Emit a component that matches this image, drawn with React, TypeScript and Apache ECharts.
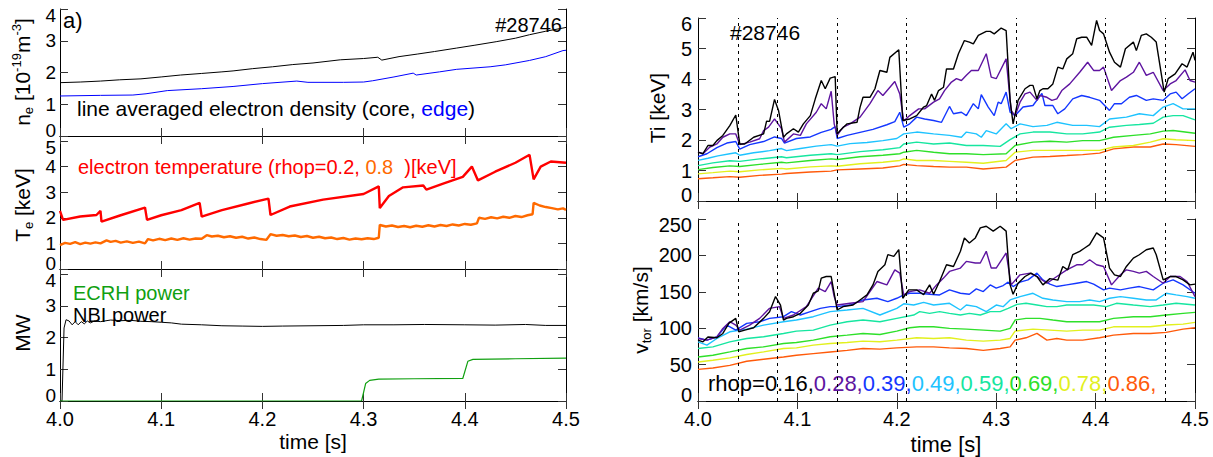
import React, { useEffect, useRef } from "react";
import * as echarts from "echarts";

const FONT = "'Liberation Sans', Arial, Helvetica, sans-serif";

// ---------- data ----------
const crashTimes = [4.039, 4.085, 4.141, 4.207, 4.316, 4.414, 4.468];
const rhopLabels = ["0.16", "0.28", "0.39", "0.49", "0.59", "0.69", "0.78", "0.86"];
const rhopColors = ["#000000", "#5e14a0", "#1437ff", "#1ec3ff", "#16e6a0", "#2ee02a", "#e2f01e", "#ff5a0a"];

const neCore = [[4.000,1.68],[4.020,1.70],[4.040,1.73],[4.059,1.77],[4.080,1.80],[4.100,1.86],[4.119,1.92],[4.140,1.97],[4.160,2.02],[4.171,2.05],[4.190,2.12],[4.210,2.18],[4.230,2.25],[4.250,2.30],[4.277,2.40],[4.300,2.44],[4.314,2.48],[4.318,2.39],[4.335,2.50],[4.353,2.58],[4.370,2.66],[4.392,2.77],[4.410,2.86],[4.431,2.97],[4.450,3.08],[4.464,3.19],[4.480,3.30],[4.497,3.40],[4.500,3.42]];
const neEdge = [[4.000,1.26],[4.040,1.28],[4.072,1.29],[4.085,1.33],[4.106,1.43],[4.140,1.49],[4.171,1.56],[4.200,1.65],[4.234,1.73],[4.245,1.69],[4.280,1.69],[4.300,1.70],[4.309,1.74],[4.330,1.86],[4.349,1.98],[4.352,1.92],[4.375,2.02],[4.392,2.10],[4.425,2.18],[4.440,2.24],[4.464,2.38],[4.480,2.50],[4.497,2.69],[4.500,2.70]];

const te02 = [[4.000,2.27],[4.003,1.92],[4.020,2.05],[4.036,2.11],[4.040,2.27],[4.041,1.85],[4.060,2.10],[4.084,2.40],[4.086,1.92],[4.100,2.10],[4.120,2.30],[4.138,2.58],[4.140,2.05],[4.160,2.30],[4.185,2.55],[4.206,2.75],[4.208,2.11],[4.227,2.44],[4.260,2.71],[4.300,2.93],[4.315,3.23],[4.316,2.38],[4.325,2.85],[4.339,3.19],[4.359,3.26],[4.362,3.10],[4.380,3.35],[4.398,3.60],[4.407,4.00],[4.413,3.46],[4.430,3.80],[4.450,4.15],[4.464,4.46],[4.468,3.50],[4.475,4.00],[4.485,4.20],[4.497,4.16],[4.500,4.15]];
const te08 = [[4.000,0.93],[4.005,1.02],[4.010,0.98],[4.015,1.05],[4.020,0.97],[4.025,1.03],[4.030,0.99],[4.035,1.04],[4.040,1.00],[4.046,1.12],[4.050,1.06],[4.055,1.10],[4.060,1.03],[4.066,1.08],[4.072,1.02],[4.078,1.07],[4.084,1.00],[4.087,1.17],[4.092,1.12],[4.098,1.18],[4.104,1.13],[4.110,1.19],[4.116,1.14],[4.122,1.20],[4.128,1.15],[4.134,1.19],[4.140,1.18],[4.145,1.32],[4.150,1.27],[4.156,1.30],[4.162,1.24],[4.168,1.28],[4.174,1.22],[4.180,1.26],[4.186,1.19],[4.192,1.23],[4.198,1.17],[4.204,1.14],[4.208,1.36],[4.214,1.30],[4.220,1.33],[4.226,1.28],[4.232,1.31],[4.238,1.25],[4.244,1.29],[4.250,1.22],[4.256,1.26],[4.262,1.20],[4.268,1.23],[4.274,1.17],[4.280,1.21],[4.286,1.15],[4.292,1.19],[4.298,1.16],[4.304,1.20],[4.310,1.17],[4.315,1.22],[4.316,1.72],[4.322,1.66],[4.328,1.70],[4.334,1.64],[4.340,1.68],[4.346,1.63],[4.352,1.69],[4.358,1.65],[4.364,1.71],[4.370,1.66],[4.376,1.72],[4.382,1.68],[4.388,1.74],[4.394,1.70],[4.400,1.76],[4.406,1.73],[4.412,1.78],[4.414,2.00],[4.420,1.96],[4.426,2.02],[4.432,1.98],[4.438,2.04],[4.444,2.00],[4.450,2.07],[4.456,2.03],[4.462,2.10],[4.467,2.14],[4.468,2.58],[4.474,2.48],[4.480,2.42],[4.486,2.38],[4.492,2.33],[4.497,2.37],[4.500,2.31]];

const nbiPower = [[4.000,0],[4.002,0],[4.004,2.30],[4.006,2.56],[4.009,2.52],[4.012,2.40],[4.015,2.50],[4.018,2.40],[4.021,2.50],[4.024,2.43],[4.027,2.52],[4.030,2.46],[4.034,2.52],[4.040,2.50],[4.050,2.55],[4.060,2.53],[4.070,2.54],[4.080,2.51],[4.090,2.50],[4.100,2.48],[4.110,2.46],[4.120,2.42],[4.140,2.40],[4.160,2.37],[4.180,2.36],[4.200,2.35],[4.220,2.36],[4.250,2.37],[4.280,2.38],[4.300,2.40],[4.330,2.40],[4.360,2.41],[4.400,2.40],[4.430,2.39],[4.460,2.41],[4.480,2.38],[4.500,2.38]];
const ecrhPower = [[4.000,0],[4.298,0],[4.302,0.55],[4.306,0.65],[4.315,0.69],[4.350,0.70],[4.398,0.71],[4.403,1.25],[4.408,1.31],[4.450,1.33],[4.500,1.35]];

const ti016 = [[4.000,1.60],[4.005,1.55],[4.010,1.82],[4.015,1.82],[4.019,1.98],[4.025,2.15],[4.032,2.47],[4.038,2.82],[4.042,1.87],[4.047,1.87],[4.056,2.09],[4.066,2.20],[4.069,2.62],[4.072,2.61],[4.077,3.33],[4.081,2.97],[4.086,2.09],[4.089,2.20],[4.096,2.37],[4.101,2.26],[4.106,2.53],[4.113,2.80],[4.118,3.35],[4.124,3.95],[4.128,3.68],[4.133,4.03],[4.138,4.08],[4.140,2.20],[4.143,2.31],[4.150,2.53],[4.160,2.58],[4.163,3.07],[4.166,3.40],[4.173,3.40],[4.178,3.68],[4.183,4.28],[4.190,4.22],[4.193,4.71],[4.202,4.96],[4.206,2.64],[4.213,2.69],[4.220,2.80],[4.227,3.08],[4.230,3.13],[4.235,3.51],[4.238,3.30],[4.242,3.62],[4.247,3.73],[4.250,4.33],[4.257,4.33],[4.262,4.83],[4.268,5.26],[4.273,5.21],[4.277,5.15],[4.282,5.43],[4.290,5.56],[4.294,5.56],[4.298,5.48],[4.305,5.67],[4.310,5.59],[4.314,3.30],[4.317,2.53],[4.322,3.30],[4.329,3.68],[4.334,3.79],[4.337,3.79],[4.341,3.35],[4.344,3.62],[4.347,3.68],[4.352,3.68],[4.357,3.84],[4.362,4.39],[4.367,4.33],[4.371,4.66],[4.377,4.83],[4.381,5.32],[4.386,5.37],[4.391,5.37],[4.396,5.10],[4.401,5.92],[4.404,5.59],[4.408,5.48],[4.414,4.88],[4.419,4.55],[4.425,4.39],[4.430,4.99],[4.438,5.21],[4.441,4.93],[4.446,5.43],[4.451,5.48],[4.456,5.37],[4.461,5.21],[4.469,3.57],[4.473,4.01],[4.480,4.17],[4.487,4.50],[4.492,4.39],[4.498,4.88],[4.500,4.61]];
const ti028 = [[4.000,1.60],[4.005,1.55],[4.012,1.77],[4.019,1.87],[4.025,2.09],[4.032,2.20],[4.038,2.20],[4.042,1.85],[4.052,1.93],[4.062,2.04],[4.066,2.31],[4.071,2.42],[4.077,2.69],[4.084,2.37],[4.087,1.93],[4.096,2.20],[4.103,2.15],[4.109,2.53],[4.119,2.91],[4.124,3.19],[4.129,3.02],[4.134,3.60],[4.137,2.53],[4.140,2.15],[4.146,2.42],[4.153,2.53],[4.163,2.75],[4.168,2.97],[4.173,3.19],[4.181,3.62],[4.186,3.46],[4.198,3.92],[4.203,3.51],[4.207,2.62],[4.213,2.80],[4.222,3.02],[4.228,3.02],[4.237,3.24],[4.243,3.35],[4.248,3.62],[4.255,3.90],[4.260,4.01],[4.265,3.95],[4.270,4.12],[4.275,4.28],[4.282,4.28],[4.290,4.83],[4.295,4.06],[4.300,4.01],[4.310,4.66],[4.315,2.97],[4.319,2.80],[4.324,3.24],[4.329,3.51],[4.334,3.57],[4.341,3.30],[4.344,3.46],[4.351,3.40],[4.356,3.30],[4.361,3.35],[4.366,3.62],[4.374,3.84],[4.384,4.22],[4.392,4.55],[4.398,4.28],[4.404,4.28],[4.408,4.39],[4.416,3.62],[4.425,3.95],[4.431,4.06],[4.438,4.22],[4.444,4.55],[4.451,4.12],[4.458,4.22],[4.468,3.62],[4.475,3.84],[4.481,3.95],[4.490,4.30],[4.495,3.95],[4.500,3.90]];
const ti039 = [[4.000,1.45],[4.009,1.55],[4.019,1.75],[4.029,1.90],[4.038,1.95],[4.042,1.70],[4.052,1.85],[4.066,1.95],[4.077,2.10],[4.084,2.05],[4.087,1.90],[4.099,2.05],[4.113,2.10],[4.124,2.25],[4.134,2.35],[4.138,2.44],[4.140,2.05],[4.150,2.15],[4.163,2.25],[4.176,2.35],[4.190,2.50],[4.198,2.60],[4.203,2.91],[4.207,2.42],[4.213,2.53],[4.220,2.75],[4.228,2.69],[4.237,2.64],[4.245,2.58],[4.253,3.10],[4.257,2.86],[4.265,2.91],[4.270,2.80],[4.277,3.19],[4.282,3.02],[4.285,3.49],[4.292,3.08],[4.298,2.80],[4.302,3.24],[4.305,3.19],[4.310,3.57],[4.314,2.91],[4.319,2.80],[4.327,3.08],[4.337,3.13],[4.346,3.53],[4.349,3.13],[4.357,3.13],[4.362,2.86],[4.369,3.02],[4.377,3.35],[4.386,3.46],[4.394,3.40],[4.404,3.30],[4.414,2.97],[4.419,3.19],[4.426,3.19],[4.434,3.40],[4.441,3.46],[4.451,3.30],[4.458,3.35],[4.468,3.30],[4.475,3.51],[4.481,3.57],[4.487,3.35],[4.493,3.51],[4.500,3.68]];
const ti049 = [[4.000,1.33],[4.010,1.40],[4.020,1.48],[4.032,1.55],[4.038,1.58],[4.042,1.50],[4.056,1.58],[4.072,1.65],[4.084,1.72],[4.089,1.65],[4.103,1.72],[4.119,1.80],[4.134,1.85],[4.140,1.80],[4.153,1.88],[4.170,1.92],[4.186,1.98],[4.200,2.05],[4.207,2.20],[4.220,2.26],[4.237,2.20],[4.253,2.15],[4.265,2.09],[4.270,2.26],[4.280,2.20],[4.285,2.09],[4.290,2.31],[4.300,2.20],[4.310,2.53],[4.315,2.37],[4.324,2.53],[4.337,2.44],[4.351,2.48],[4.361,2.58],[4.377,2.48],[4.391,2.48],[4.404,2.44],[4.414,2.69],[4.431,2.75],[4.444,2.86],[4.458,2.80],[4.468,3.08],[4.478,3.19],[4.488,3.02],[4.500,3.02]];
const ti059 = [[4.000,1.16],[4.015,1.25],[4.032,1.32],[4.042,1.30],[4.062,1.38],[4.084,1.45],[4.089,1.42],[4.113,1.50],[4.134,1.55],[4.140,1.52],[4.163,1.62],[4.186,1.68],[4.203,1.75],[4.207,1.87],[4.220,1.93],[4.237,1.87],[4.253,1.90],[4.270,1.82],[4.287,1.82],[4.304,1.79],[4.314,2.01],[4.324,2.20],[4.337,2.26],[4.354,2.26],[4.371,2.20],[4.387,2.20],[4.404,2.26],[4.414,2.42],[4.431,2.48],[4.444,2.51],[4.458,2.55],[4.468,2.75],[4.478,2.80],[4.488,2.80],[4.500,2.66]];
const ti069 = [[4.000,1.03],[4.015,1.10],[4.032,1.15],[4.042,1.13],[4.062,1.20],[4.084,1.27],[4.089,1.25],[4.113,1.33],[4.134,1.38],[4.140,1.36],[4.163,1.45],[4.186,1.50],[4.203,1.55],[4.207,1.60],[4.220,1.66],[4.237,1.60],[4.253,1.55],[4.270,1.55],[4.287,1.52],[4.310,1.55],[4.319,1.82],[4.337,1.93],[4.354,1.96],[4.371,1.93],[4.387,1.98],[4.404,1.98],[4.418,2.09],[4.438,2.15],[4.455,2.20],[4.468,2.29],[4.478,2.31],[4.500,2.22]];
const ti078 = [[4.000,0.89],[4.015,0.93],[4.032,0.98],[4.042,0.96],[4.062,1.02],[4.084,1.07],[4.089,1.05],[4.113,1.12],[4.134,1.15],[4.140,1.14],[4.163,1.22],[4.186,1.27],[4.203,1.33],[4.207,1.38],[4.220,1.33],[4.237,1.33],[4.253,1.30],[4.270,1.27],[4.287,1.24],[4.310,1.33],[4.319,1.60],[4.337,1.66],[4.354,1.66],[4.371,1.66],[4.387,1.66],[4.404,1.66],[4.418,1.77],[4.438,1.82],[4.455,1.93],[4.468,2.04],[4.481,2.01],[4.500,1.98]];
const ti086 = [[4.000,0.73],[4.015,0.76],[4.032,0.80],[4.042,0.78],[4.062,0.84],[4.084,0.88],[4.089,0.90],[4.113,0.95],[4.134,0.98],[4.140,1.02],[4.163,1.05],[4.186,1.08],[4.203,1.15],[4.207,1.20],[4.220,1.16],[4.237,1.13],[4.253,1.11],[4.270,1.11],[4.287,1.05],[4.310,1.11],[4.319,1.33],[4.337,1.44],[4.354,1.46],[4.371,1.49],[4.387,1.52],[4.404,1.57],[4.418,1.71],[4.438,1.77],[4.455,1.77],[4.468,1.87],[4.481,1.85],[4.500,1.79]];

const vt016 = [[4.000,83.6],[4.005,81.3],[4.010,88.0],[4.019,86.8],[4.025,92.8],[4.031,106.7],[4.038,113.5],[4.041,95.0],[4.047,97.4],[4.056,100.6],[4.066,113.5],[4.072,122.7],[4.078,143.4],[4.083,131.8],[4.086,111.2],[4.089,113.5],[4.096,115.8],[4.103,120.4],[4.111,131.8],[4.116,148.0],[4.121,151.2],[4.124,168.8],[4.129,171.0],[4.134,171.0],[4.140,125.0],[4.146,129.6],[4.156,131.8],[4.163,138.8],[4.170,145.7],[4.176,159.5],[4.181,177.9],[4.188,187.1],[4.191,201.0],[4.197,198.7],[4.202,207.9],[4.206,141.1],[4.212,152.6],[4.220,152.6],[4.227,146.0],[4.233,159.5],[4.237,146.6],[4.243,164.1],[4.250,187.1],[4.257,184.8],[4.264,205.6],[4.268,224.0],[4.273,217.0],[4.279,224.0],[4.284,237.8],[4.290,240.1],[4.297,233.3],[4.304,240.1],[4.310,233.3],[4.314,159.5],[4.317,146.6],[4.322,161.8],[4.329,171.0],[4.335,175.6],[4.341,171.0],[4.347,159.5],[4.354,168.1],[4.362,166.0],[4.367,184.8],[4.372,180.2],[4.377,200.9],[4.384,205.6],[4.389,210.2],[4.394,214.8],[4.401,230.9],[4.408,224.0],[4.414,182.5],[4.419,173.3],[4.425,171.0],[4.431,184.8],[4.438,196.3],[4.444,200.9],[4.451,207.8],[4.458,210.2],[4.461,200.9],[4.468,166.4],[4.475,171.0],[4.481,171.0],[4.488,166.4],[4.495,159.5],[4.500,160.5]];
const vt028 = [[4.000,85.9],[4.009,83.6],[4.019,88.2],[4.025,99.7],[4.032,108.9],[4.038,104.3],[4.042,97.4],[4.052,104.3],[4.062,113.5],[4.072,127.3],[4.082,129.6],[4.086,113.5],[4.096,118.1],[4.109,129.6],[4.121,154.9],[4.128,150.3],[4.134,164.1],[4.137,143.4],[4.140,131.8],[4.153,134.2],[4.166,136.5],[4.180,164.1],[4.190,159.5],[4.198,180.2],[4.203,175.6],[4.207,145.7],[4.213,150.3],[4.223,152.6],[4.233,148.0],[4.240,159.5],[4.247,168.8],[4.253,178.0],[4.264,182.6],[4.270,191.8],[4.279,189.5],[4.284,189.5],[4.290,205.6],[4.295,182.6],[4.300,182.6],[4.310,203.3],[4.315,159.5],[4.324,173.3],[4.334,175.6],[4.341,171.0],[4.351,161.8],[4.361,171.0],[4.371,180.2],[4.381,187.1],[4.387,187.1],[4.394,194.0],[4.401,187.1],[4.408,184.8],[4.416,159.5],[4.425,173.3],[4.431,180.2],[4.438,178.0],[4.444,175.6],[4.451,178.0],[4.458,171.0],[4.468,161.8],[4.475,171.0],[4.485,171.0],[4.492,164.1],[4.500,143.4]];
const vt039 = [[4.000,86.8],[4.009,83.6],[4.019,88.2],[4.029,104.3],[4.038,97.4],[4.049,106.6],[4.062,108.9],[4.072,113.5],[4.086,115.8],[4.094,122.7],[4.103,118.1],[4.113,122.7],[4.123,127.3],[4.133,129.6],[4.140,129.6],[4.153,131.8],[4.166,138.8],[4.180,141.1],[4.191,136.5],[4.200,141.1],[4.207,145.7],[4.213,148.0],[4.223,148.0],[4.233,146.6],[4.243,145.7],[4.253,152.6],[4.264,148.0],[4.273,146.6],[4.280,154.0],[4.287,150.3],[4.294,159.5],[4.300,155.0],[4.307,158.6],[4.312,163.2],[4.317,157.2],[4.324,163.2],[4.332,166.4],[4.341,175.6],[4.347,166.4],[4.354,160.5],[4.361,157.2],[4.371,159.5],[4.381,161.8],[4.391,164.1],[4.398,160.5],[4.408,152.6],[4.414,155.0],[4.425,152.6],[4.434,155.0],[4.444,157.2],[4.458,152.6],[4.468,161.8],[4.478,166.4],[4.488,159.5],[4.500,148.0]];
const vt049 = [[4.000,81.3],[4.009,76.7],[4.019,85.9],[4.032,95.1],[4.049,98.7],[4.066,104.3],[4.086,108.9],[4.099,111.2],[4.116,115.8],[4.133,122.7],[4.150,125.0],[4.166,127.3],[4.183,118.1],[4.200,127.3],[4.207,133.5],[4.217,131.8],[4.227,135.5],[4.237,131.8],[4.253,134.2],[4.264,125.0],[4.270,131.8],[4.280,129.6],[4.290,122.7],[4.300,131.8],[4.307,129.6],[4.314,138.8],[4.324,143.4],[4.337,148.0],[4.347,141.1],[4.357,138.8],[4.371,136.5],[4.384,136.5],[4.394,138.8],[4.404,136.5],[4.414,141.1],[4.425,143.4],[4.438,141.1],[4.451,138.8],[4.461,138.8],[4.471,148.0],[4.481,145.7],[4.492,143.4],[4.500,141.1]];
const vt059 = [[4.000,72.1],[4.015,74.4],[4.032,81.3],[4.049,85.9],[4.066,88.2],[4.086,92.8],[4.099,96.0],[4.116,97.4],[4.133,104.3],[4.150,108.9],[4.166,111.2],[4.183,108.9],[4.200,113.5],[4.217,118.1],[4.223,122.7],[4.233,120.4],[4.243,122.7],[4.253,120.4],[4.264,118.1],[4.273,120.4],[4.284,118.1],[4.294,122.7],[4.304,122.7],[4.312,127.3],[4.321,132.8],[4.330,134.2],[4.341,131.8],[4.351,129.6],[4.361,129.6],[4.371,131.8],[4.384,131.8],[4.398,131.8],[4.411,129.6],[4.421,134.2],[4.438,131.8],[4.455,129.6],[4.468,131.8],[4.481,134.2],[4.500,131.8]];
const vt069 = [[4.000,60.5],[4.015,62.8],[4.032,67.4],[4.049,72.1],[4.066,74.4],[4.086,79.0],[4.099,80.3],[4.116,83.6],[4.133,88.2],[4.150,90.5],[4.166,92.8],[4.183,91.4],[4.200,96.0],[4.213,100.6],[4.223,101.9],[4.237,101.9],[4.253,99.7],[4.270,98.7],[4.287,97.4],[4.304,96.0],[4.314,99.7],[4.319,111.2],[4.330,113.5],[4.344,113.5],[4.357,111.2],[4.371,108.9],[4.387,108.9],[4.404,108.9],[4.418,113.5],[4.438,115.8],[4.455,115.8],[4.471,118.1],[4.488,120.4],[4.500,121.8]];
const vt078 = [[4.000,53.6],[4.015,55.9],[4.032,59.2],[4.049,63.8],[4.066,67.4],[4.086,72.1],[4.099,73.0],[4.116,76.7],[4.133,79.0],[4.150,80.3],[4.166,82.2],[4.183,81.3],[4.200,83.6],[4.220,86.8],[4.237,85.9],[4.253,86.8],[4.270,83.6],[4.287,82.2],[4.304,83.6],[4.314,85.9],[4.319,96.0],[4.337,98.7],[4.354,97.4],[4.371,96.0],[4.387,97.4],[4.404,97.4],[4.418,101.9],[4.438,101.9],[4.455,101.9],[4.471,104.3],[4.488,105.6],[4.500,108.0]];
const vt086 = [[4.000,43.5],[4.015,45.3],[4.032,49.0],[4.049,54.6],[4.066,57.3],[4.086,60.5],[4.099,62.8],[4.116,65.1],[4.133,67.4],[4.150,69.6],[4.166,72.1],[4.183,71.2],[4.200,73.0],[4.220,74.4],[4.237,74.4],[4.253,73.0],[4.270,72.1],[4.287,69.6],[4.304,72.1],[4.314,74.4],[4.319,83.6],[4.330,86.8],[4.341,92.8],[4.351,83.6],[4.361,85.9],[4.371,83.6],[4.387,83.6],[4.404,86.8],[4.418,90.5],[4.438,92.8],[4.455,92.8],[4.471,94.2],[4.488,98.7],[4.500,100.6]];

const tiSeries = [ti016, ti028, ti039, ti049, ti059, ti069, ti078, ti086];
const vtSeries = [vt016, vt028, vt039, vt049, vt059, vt069, vt078, vt086];

// ---------- layout ----------
const grids = [
  { left: 60, top: 9, width: 506, height: 127 },
  { left: 60, top: 141, width: 506, height: 128 },
  { left: 60, top: 274, width: 506, height: 127 },
  { left: 698, top: 18, width: 497, height: 183 },
  { left: 698, top: 219, width: 497, height: 182 },
];
const yRanges = [
  { min: 0, max: 4, interval: 1 },
  { min: 0, max: 5, interval: 1 },
  { min: 0, max: 4, interval: 1 },
  { min: 0, max: 6, interval: 1 },
  { min: 0, max: 250, interval: 50 },
];
const showXLabels = [false, false, true, false, true];

function buildOption() {
  const axisLine = { show: true, lineStyle: { color: "#000", width: 1 } };
  const xAxis: any[] = [];
  const yAxis: any[] = [];
  grids.forEach((_, i) => {
    const tick = { show: true, inside: true, length: 8, lineStyle: { color: "#333" } };
    const base = { type: "value", gridIndex: i, min: 4.0, max: 4.5, interval: 0.1, splitLine: { show: false }, axisLine, axisTick: tick };
    xAxis.push({ ...base, position: "bottom", axisLabel: { show: showXLabels[i], showMinLabel: true, showMaxLabel: true, hideOverlap: false, margin: 10, color: "#000", fontSize: 20, lineHeight: 16, fontFamily: FONT, formatter: (v: number) => v.toFixed(1) } });
    xAxis.push({ ...base, position: "top", axisLabel: { show: false } });
    const yb = { type: "value", gridIndex: i, ...yRanges[i], splitLine: { show: false }, axisLine, axisTick: tick };
    yAxis.push({ ...yb, position: "left", axisLabel: { show: true, showMinLabel: true, showMaxLabel: true, hideOverlap: false, margin: i < 3 ? 4 : 6, color: "#000", fontSize: i < 3 ? 19 : 20, lineHeight: 12, fontFamily: FONT, verticalAlignMinLabel: "bottom", verticalAlignMaxLabel: "top" } });
    yAxis.push({ ...yb, position: "right", axisLabel: { show: false } });
  });

  const line = (data: number[][], g: number, color: string, width: number, extra: any = {}) => ({
    type: "line", data, xAxisIndex: 2 * g, yAxisIndex: 2 * g, showSymbol: false, symbol: "none",
    lineStyle: { color, width }, silent: true, ...extra,
  });
  const markLine = {
    silent: true, symbol: ["none", "none"], label: { show: false },
    lineStyle: { color: "#000", type: [3, 4], width: 1 },
    data: crashTimes.map((t) => ({ xAxis: t })),
  };

  const series: any[] = [
    line(neCore, 0, "#000000", 1),
    line(neEdge, 0, "#0000ff", 1),
    line(te08, 1, "#ff6a00", 2.4),
    line(te02, 1, "#ff0000", 2.4),
    line(nbiPower, 2, "#000000", 1),
    line(ecrhPower, 2, "#10a010", 1.2),
  ];
  for (let k = tiSeries.length - 1; k >= 0; k--) {
    series.push(line(tiSeries[k], 3, rhopColors[k], 1.4, k === 7 ? { markLine } : {}));
  }
  for (let k = vtSeries.length - 1; k >= 0; k--) {
    series.push(line(vtSeries[k], 4, rhopColors[k], 1.4, k === 7 ? { markLine } : {}));
  }

  const txt = (x: number, y: number, text: string, opts: any = {}) => ({
    type: "text", x, y, silent: true, rotation: opts.rotation || 0,
    style: { text, fontFamily: FONT, fontSize: opts.fontSize || 20, fill: opts.fill || "#000", align: opts.align || "left", verticalAlign: "middle", rich: opts.rich },
  });
  const subRich = (fs: number) => ({
    n: { fontFamily: FONT, fontSize: fs, fill: "#000", verticalAlign: "middle", lineHeight: fs + 4 },
    sub: { fontFamily: FONT, fontSize: Math.round(fs * 0.62), fill: "#000", verticalAlign: "bottom", lineHeight: Math.round(fs * 0.62) },
    sup: { fontFamily: FONT, fontSize: Math.round(fs * 0.62), fill: "#000", verticalAlign: "top", lineHeight: Math.round(fs * 0.62) },
  });

  const rhopRich: any = { k: { fontFamily: FONT, fontSize: 22, fill: "#000" } };
  rhopColors.forEach((c, i) => { rhopRich["c" + i] = { fontFamily: FONT, fontSize: 22, fill: c }; });
  const rhopText = "{k|rhop=}" + rhopLabels.map((l, i) => `{c${i}|${l},}`).join("");

  const graphic = [
    txt(63, 20, "a)", { fontSize: 22 }),
    txt(562, 25, "#28746", { align: "right" }),
    txt(77, 108, "{k|line averaged electron density (core, }{b|edge}{k|)}", {
      rich: { k: { fontFamily: FONT, fontSize: 21, fill: "#000" }, b: { fontFamily: FONT, fontSize: 21, fill: "#0000ff" } },
    }),
    txt(78, 167, "{r|electron temperature (rhop=0.2, }{o|0.8}{r|  )[keV]}", {
      rich: { r: { fontFamily: FONT, fontSize: 20, fill: "#ff0000" }, o: { fontFamily: FONT, fontSize: 20, fill: "#ff6a00" } },
    }),
    txt(73, 293, "ECRH power", { fill: "#10a010" }),
    txt(73, 315, "NBI power"),
    txt(22, 72, "{n|n}{sub|e}{n| [10}{sup|-19}{n|m}{sup|-3}{n|]}", { rotation: Math.PI / 2, align: "center", rich: subRich(21) }),
    txt(22, 205, "{n|T}{sub|e}{n| [keV]}", { rotation: Math.PI / 2, align: "center", rich: subRich(21) }),
    txt(22, 333, "MW", { rotation: Math.PI / 2, align: "center", fontSize: 21 }),
    txt(313, 441, "time [s]", { align: "center", fontSize: 21 }),
    txt(730, 32, "#28746", { fontSize: 21 }),
    txt(657, 108, "Ti [keV]", { rotation: Math.PI / 2, align: "center", fontSize: 21 }),
    txt(640, 310, "{n|v}{sub|tor}{n| [km/s]}", { rotation: Math.PI / 2, align: "center", rich: subRich(21) }),
    txt(708, 383, rhopText, { rich: rhopRich }),
    txt(946, 444, "time [s]", { align: "center", fontSize: 22 }),
  ];

  return {
    animation: false,
    backgroundColor: "#ffffff",
    grid: grids.map((g) => ({ ...g, containLabel: false })),
    xAxis,
    yAxis,
    series,
    graphic,
  };
}

export default function App() {
  const ref = useRef<HTMLDivElement>(null);
  useEffect(() => {
    if (!ref.current) return;
    const chart = echarts.init(ref.current, undefined, { renderer: "svg" });
    chart.setOption(buildOption() as any);
    return () => chart.dispose();
  }, []);
  return <div ref={ref} style={{ position: "fixed", left: 0, top: 0, width: 1213, height: 457, background: "#fff" }} />;
}
